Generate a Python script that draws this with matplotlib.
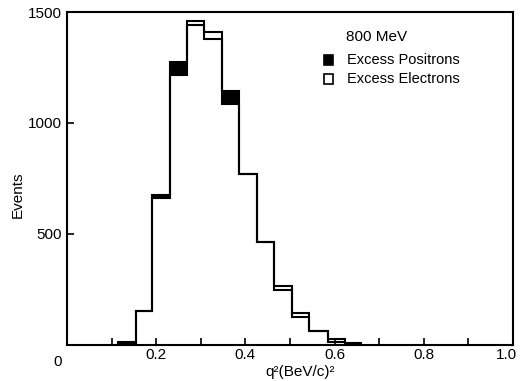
import numpy as np
import matplotlib
matplotlib.use('Agg')
import matplotlib.pyplot as plt
import matplotlib.transforms as mtransforms
from matplotlib.patches import Rectangle

# bin edges in q^2 (BeV/c)^2
edges = [0.114, 0.155, 0.191, 0.231, 0.269, 0.307, 0.348, 0.386, 0.426,
         0.464, 0.504, 0.542, 0.585, 0.623, 0.659]
positrons = [5, 155, 675, 1275, 1440, 1380, 1145, 770, 462, 248, 125, 65, 15, 2]
electrons = [12, 155, 660, 1215, 1460, 1410, 1085, 770, 462, 268, 143, 65, 27, 8]

xticks = [0.1, 0.2, 0.3, 0.4, 0.5, 0.6, 0.7, 0.8, 0.9, 1.0]
xticklabels = ['', '0.2', '', '0.4', '', '0.6', '', '0.8', '', '1.0']
yticks = [0, 500, 1000, 1500]
yticklabels = ['', '500', '1000', '1500']

plt.rcParams['font.family'] = ['Liberation Sans', 'DejaVu Sans']

edges = np.array(edges)
pos = np.array(positrons, dtype=float)
ele = np.array(electrons, dtype=float)

fig = plt.figure(figsize=(5.21, 3.81), dpi=100)
ax = fig.add_axes([0.1286, 0.0945, 0.856, 0.874])

# black where positrons exceed electrons
top = np.where(pos > ele, pos, ele)
ax.stairs(top, edges, baseline=ele, fill=True, color='black', lw=0)
ax.stairs(ele, edges, color='black', lw=1.5)
ax.stairs(pos, edges, color='black', lw=1.5)

ax.set_xlim(0, 1.0)
ax.set_ylim(0, 1500)
ax.set_xticks(xticks)
ax.set_xticklabels(xticklabels, fontsize=11)
ax.set_yticks(yticks)
ax.set_yticklabels(yticklabels, fontsize=11)
ax.tick_params(direction='in', length=5, width=1.2, pad=4)
ax.tick_params(axis='x', pad=2)
for s in ax.spines.values():
    s.set_linewidth(1.5)

# pull the last x label a bit inward like the original
last = ax.get_xticklabels()[-1]
last.set_transform(last.get_transform() +
                   mtransforms.ScaledTranslation(-7 / 100, 0, fig.dpi_scale_trans))

ax.text(-0.022, -0.05, '0', transform=ax.transAxes, fontsize=11,
        ha='center', va='center')
fig.text(0.576, 0.005, 'q\u00b2(BeV/c)\u00b2', fontsize=11, ha='center', va='bottom')
fig.text(0.035, 0.49, 'Events', rotation=90, fontsize=11, ha='center', va='center')

# legend
ax.text(0.625, 0.925, '800 MeV', transform=ax.transAxes, fontsize=11,
        ha='left', va='center')
ax.add_patch(Rectangle((0.577, 0.84), 0.02, 0.03, transform=ax.transAxes,
                       facecolor='black', edgecolor='black', lw=1.2))
ax.add_patch(Rectangle((0.577, 0.783), 0.02, 0.03, transform=ax.transAxes,
                       facecolor='white', edgecolor='black', lw=1.2))
ax.text(0.628, 0.855, 'Excess Positrons', transform=ax.transAxes, fontsize=10.5,
        ha='left', va='center')
ax.text(0.628, 0.798, 'Excess Electrons', transform=ax.transAxes, fontsize=10.5,
        ha='left', va='center')

fig.savefig('out.png', dpi=100)
